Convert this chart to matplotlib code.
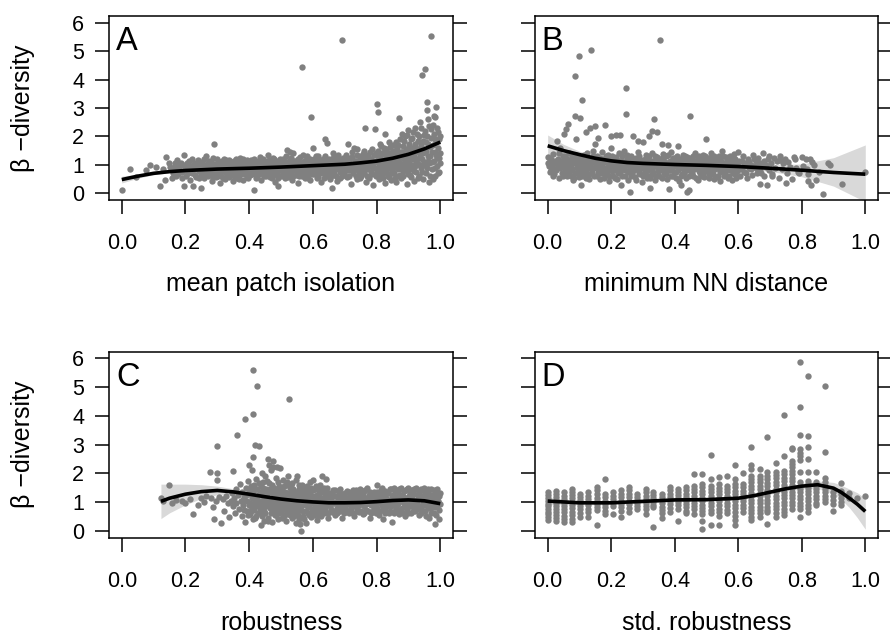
import matplotlib
matplotlib.use("Agg")
import matplotlib.pyplot as plt
from matplotlib.ticker import FormatStrFormatter

plt.rcParams['font.family'] = ['Liberation Sans', 'DejaVu Sans']

# ---- panel A: mean patch isolation ----
a_pts = [
    (0.002, 0.11), (0.027, 0.85), (0.045, 0.58), (0.075, 0.81), (0.09, 0.98), (0.109, 0.93),
    (0.12, 0.25), (0.13, 0.87), (0.135, 0.46), (0.14, 1.28), (0.149, 1.07),
    (0.152, 0.92), (0.158, 0.54), (0.163, 0.81), (0.168, 1.05), (0.172, 1.17), (0.176, 0.66),
    (0.181, 0.88), (0.185, 1.07), (0.19, 0.74), (0.194, 1.34), (0.196, 0.25), (0.198, 0.95),
    (0.203, 0.62), (0.206, 0.84), (0.21, 1.12), (0.214, 0.48), (0.217, 0.97), (0.221, 0.71),
    (0.224, 0.25), (0.227, 1.02), (0.231, 0.86), (0.234, 0.58), (0.238, 1.18), (0.241, 0.78),
    (0.245, 0.93), (0.248, 0.2), (0.249, 0.66),
    (0.252, 1.08), (0.255, 0.83), (0.258, 0.52), (0.261, 0.95), (0.264, 0.71), (0.266, 1.31),
    (0.268, 0.88), (0.271, 0.61), (0.274, 1.15), (0.277, 0.79), (0.279, 0.99), (0.282, 0.44),
    (0.285, 0.9), (0.287, 0.68), (0.289, 1.72), (0.291, 1.04), (0.294, 0.82), (0.296, 0.56), (0.298, 1.2),
    (0.301, 0.93), (0.303, 0.74), (0.306, 1.1), (0.308, 0.35), (0.311, 0.86), (0.313, 0.62),
    (0.316, 1.01), (0.318, 0.78), (0.321, 1.22), (0.323, 0.5), (0.326, 0.95), (0.328, 0.7),
    (0.331, 1.07), (0.333, 0.84), (0.336, 0.58), (0.338, 1.16), (0.341, 0.9), (0.343, 0.66),
    (0.346, 0.99), (0.348, 0.42),
    (0.351, 0.81), (0.353, 1.12), (0.356, 0.73), (0.358, 0.96), (0.361, 0.55), (0.363, 1.05),
    (0.366, 0.87), (0.368, 0.64), (0.371, 1.24), (0.373, 0.92), (0.376, 0.77), (0.378, 1.0),
    (0.381, 0.47), (0.383, 0.85), (0.386, 1.14), (0.388, 0.69), (0.391, 0.94), (0.393, 0.58),
    (0.396, 1.08), (0.398, 0.8),
    (0.401, 0.97), (0.403, 0.63), (0.406, 1.18), (0.408, 0.86), (0.411, 0.72), (0.413, 1.03),
    (0.416, 0.1), (0.418, 0.9), (0.421, 0.54), (0.423, 1.1), (0.426, 0.79), (0.428, 0.98),
    (0.431, 0.67), (0.433, 1.26), (0.436, 0.88), (0.438, 0.45), (0.441, 1.01), (0.443, 0.76),
    (0.446, 0.93), (0.448, 0.6),
    (0.451, 1.13), (0.453, 0.84), (0.456, 0.7), (0.458, 1.02), (0.46, 1.34), (0.462, 0.92),
    (0.465, 0.57), (0.467, 1.07), (0.47, 0.8), (0.472, 0.99), (0.475, 0.65), (0.477, 1.19),
    (0.48, 0.87), (0.482, 0.41), (0.485, 0.95), (0.487, 0.74), (0.49, 1.1), (0.492, 0.25),
    (0.495, 0.89), (0.497, 0.62),
    (0.501, 1.04), (0.503, 0.78), (0.506, 1.22), (0.508, 0.91), (0.511, 0.55), (0.513, 1.08),
    (0.516, 0.83), (0.518, 1.52), (0.521, 0.69), (0.523, 0.97), (0.526, 1.15), (0.528, 1.46),
    (0.531, 0.74), (0.533, 0.93), (0.536, 0.48), (0.539, 1.4), (0.541, 1.03), (0.543, 0.86),
    (0.546, 0.64), (0.548, 1.12),
    (0.551, 0.9), (0.553, 0.35), (0.556, 1.01), (0.558, 0.77), (0.561, 1.27), (0.563, 0.94),
    (0.566, 0.6), (0.567, 4.46), (0.569, 1.1), (0.571, 0.82), (0.574, 0.99), (0.576, 0.52),
    (0.579, 1.18), (0.581, 0.87), (0.584, 0.71), (0.586, 1.06), (0.589, 0.93), (0.591, 0.45),
    (0.593, 2.69), (0.594, 1.14), (0.596, 0.8), (0.599, 1.02), (0.6, 1.58),
    (0.602, 0.66), (0.605, 1.09), (0.607, 0.89), (0.61, 1.3), (0.612, 0.74), (0.615, 0.98),
    (0.617, 0.58), (0.62, 1.16), (0.622, 0.85), (0.625, 1.04), (0.627, 0.38), (0.63, 0.94),
    (0.632, 1.22), (0.635, 0.7), (0.638, 1.9), (0.64, 1.01), (0.642, 0.83), (0.644, 1.78),
    (0.645, 0.62), (0.648, 1.12),
    (0.651, 0.92), (0.653, 0.51), (0.656, 1.07), (0.658, 0.79), (0.659, 0.17), (0.662, 1.25),
    (0.664, 0.96), (0.667, 0.68), (0.669, 1.13), (0.672, 0.87), (0.674, 1.02), (0.677, 0.44),
    (0.679, 1.36), (0.682, 0.9), (0.684, 0.73), (0.687, 1.18), (0.689, 0.98), (0.692, 0.6),
    (0.693, 5.38), (0.695, 1.08), (0.698, 0.84),
    (0.701, 1.21), (0.703, 0.95), (0.706, 0.57), (0.708, 1.04), (0.71, 1.75), (0.712, 0.8),
    (0.715, 1.15), (0.717, 0.92), (0.72, 0.33), (0.722, 1.29), (0.725, 0.7), (0.727, 1.01),
    (0.73, 1.6), (0.732, 0.86), (0.735, 1.12), (0.737, 0.49), (0.74, 1.55), (0.742, 0.97),
    (0.745, 0.76), (0.747, 1.24), (0.749, 1.06),
    (0.751, 0.62), (0.754, 1.17), (0.756, 0.9), (0.758, 1.38), (0.761, 0.72), (0.763, 1.03),
    (0.764, 2.28), (0.766, 0.41), (0.768, 1.27), (0.771, 0.85), (0.773, 1.1), (0.776, 0.55),
    (0.778, 1.45), (0.781, 0.95), (0.783, 1.2), (0.786, 0.68), (0.788, 1.05), (0.79, 0.3),
    (0.793, 1.33), (0.795, 0.88), (0.796, 2.26), (0.798, 1.14), (0.8, 3.13),
    (0.802, 0.74), (0.804, 1.5), (0.806, 2.87), (0.807, 1.02), (0.809, 0.5), (0.811, 1.24),
    (0.813, 0.9), (0.815, 1.66), (0.817, 0.63), (0.819, 1.12), (0.821, 1.38), (0.823, 0.82),
    (0.825, 0.36), (0.827, 2.1), (0.828, 1.0), (0.83, 1.55), (0.832, 0.7), (0.834, 1.2),
    (0.836, 0.94), (0.838, 1.8), (0.84, 0.56), (0.842, 1.3), (0.844, 1.07), (0.846, 0.45),
    (0.848, 1.46), (0.849, 0.85),
    (0.851, 1.15), (0.853, 1.7), (0.855, 0.72), (0.857, 1.35), (0.859, 0.98), (0.861, 0.4),
    (0.863, 1.58), (0.865, 1.1), (0.867, 0.62), (0.869, 2.64), (0.87, 1.25), (0.872, 0.88),
    (0.874, 1.9), (0.876, 1.45), (0.878, 0.52), (0.88, 1.04), (0.882, 1.65), (0.884, 0.78),
    (0.886, 1.3), (0.888, 0.95), (0.89, 2.0), (0.892, 1.18), (0.894, 0.32), (0.896, 1.52),
    (0.898, 0.68), (0.9, 2.22),
    (0.901, 1.08), (0.903, 1.75), (0.905, 0.85), (0.907, 1.4), (0.909, 0.58), (0.911, 1.95),
    (0.913, 1.22), (0.915, 0.95), (0.917, 1.62), (0.919, 0.44), (0.921, 2.3), (0.923, 1.12),
    (0.925, 0.75), (0.927, 1.5), (0.929, 1.85), (0.931, 1.02), (0.933, 0.62), (0.935, 2.5),
    (0.937, 1.35), (0.939, 0.88), (0.941, 1.7), (0.942, 4.16), (0.944, 1.2), (0.946, 0.5),
    (0.948, 2.05), (0.949, 1.55),
    (0.951, 4.38), (0.952, 0.98), (0.954, 1.8), (0.956, 0.7), (0.958, 3.2), (0.958, 2.93),
    (0.96, 1.3), (0.962, 2.6), (0.964, 1.05), (0.966, 0.4), (0.968, 1.62), (0.97, 2.25),
    (0.972, 5.55), (0.973, 0.85), (0.975, 1.45), (0.977, 2.4), (0.979, 2.72), (0.98, 1.15),
    (0.982, 0.6), (0.984, 2.7), (0.985, 1.9), (0.986, 3.05), (0.988, 1.35), (0.99, 0.95),
    (0.992, 2.15), (0.994, 1.6), (0.995, 0.75), (0.997, 1.25), (0.998, 2.0), (1.0, 1.05),
    # second pass over the dense body
    (0.161, 0.72), (0.166, 0.95), (0.171, 0.6), (0.178, 0.98), (0.183, 0.78), (0.188, 0.55),
    (0.192, 1.0), (0.199, 0.82), (0.204, 1.05), (0.208, 0.7), (0.212, 0.92), (0.219, 1.2),
    (0.223, 0.85), (0.229, 0.65), (0.233, 1.08), (0.237, 0.95), (0.243, 0.55), (0.246, 1.1),
    (0.251, 0.88), (0.256, 0.68), (0.259, 1.22), (0.263, 0.82), (0.267, 1.02), (0.272, 0.76),
    (0.276, 0.92), (0.281, 1.1), (0.286, 0.58), (0.288, 1.25), (0.292, 0.75), (0.297, 0.98),
    (0.302, 0.62), (0.307, 1.0), (0.31, 0.8), (0.314, 1.15), (0.317, 0.55), (0.322, 0.9),
    (0.327, 1.18), (0.33, 0.62), (0.334, 0.97), (0.337, 0.76), (0.342, 1.1), (0.347, 0.85),
    (0.352, 0.6), (0.355, 0.95), (0.359, 1.2), (0.364, 0.8), (0.367, 0.5), (0.372, 1.1),
    (0.375, 0.68), (0.379, 0.9), (0.382, 1.22), (0.387, 0.96), (0.39, 0.75), (0.394, 1.16),
    (0.397, 0.55), (0.402, 0.82), (0.405, 1.05), (0.409, 0.68), (0.414, 1.2), (0.417, 0.95),
    (0.42, 0.78), (0.424, 0.6), (0.427, 1.15), (0.432, 0.9), (0.435, 1.05), (0.439, 0.7),
    (0.442, 1.22), (0.447, 0.83), (0.45, 1.02), (0.454, 0.62), (0.457, 0.88), (0.461, 1.18),
    (0.464, 0.75), (0.468, 0.95), (0.471, 0.55), (0.474, 1.25), (0.478, 1.05), (0.481, 0.68),
    (0.484, 1.15), (0.488, 0.9), (0.491, 0.55), (0.494, 1.0), (0.498, 1.2), (0.502, 0.88),
    (0.505, 0.6), (0.509, 1.12), (0.512, 0.7), (0.515, 1.3), (0.519, 0.98), (0.522, 0.58),
    (0.525, 0.85), (0.529, 1.05), (0.532, 1.25), (0.535, 0.8), (0.538, 0.62), (0.542, 1.15),
    (0.545, 0.95), (0.549, 0.75), (0.552, 1.2), (0.555, 0.62), (0.559, 0.9), (0.562, 1.08),
    (0.565, 0.78), (0.568, 1.35), (0.572, 0.65), (0.575, 1.15), (0.578, 0.92), (0.582, 1.3),
    (0.585, 0.55), (0.588, 0.8), (0.592, 1.22), (0.595, 0.95), (0.598, 0.68), (0.603, 1.2),
    (0.606, 0.8), (0.609, 1.02), (0.613, 0.55), (0.616, 1.32), (0.619, 0.92), (0.623, 0.7),
    (0.626, 1.15), (0.629, 0.82), (0.633, 1.05), (0.636, 0.52), (0.639, 1.3), (0.643, 0.95),
    (0.646, 0.75), (0.65, 1.22), (0.654, 0.85), (0.657, 0.62), (0.66, 1.15), (0.663, 1.4),
    (0.666, 0.8), (0.67, 1.05), (0.673, 0.6), (0.676, 1.28), (0.68, 0.95), (0.683, 1.12),
    (0.686, 0.52), (0.69, 0.85), (0.694, 1.25), (0.697, 0.7), (0.7, 1.0), (0.704, 1.35),
    (0.707, 0.8), (0.711, 1.1), (0.714, 0.62), (0.718, 1.25), (0.721, 0.95), (0.724, 1.45),
    (0.728, 0.82), (0.731, 1.15), (0.734, 0.6), (0.738, 1.35), (0.741, 0.88), (0.744, 1.1),
    (0.748, 0.55), (0.752, 1.3), (0.755, 1.0), (0.759, 0.8), (0.762, 1.5), (0.765, 1.15),
    (0.769, 0.62), (0.772, 1.35), (0.775, 0.95), (0.779, 1.2), (0.782, 0.75), (0.785, 1.55),
    (0.789, 0.9), (0.792, 1.1), (0.797, 0.6), (0.799, 1.4),
    (0.801, 1.1), (0.803, 0.9), (0.805, 1.3), (0.808, 0.62), (0.81, 1.75), (0.812, 1.05),
    (0.814, 0.78), (0.816, 1.4), (0.818, 1.0), (0.82, 0.55), (0.822, 1.6), (0.824, 1.15),
    (0.826, 0.9), (0.829, 1.3), (0.831, 0.75), (0.833, 1.45), (0.835, 1.05), (0.837, 0.6),
    (0.839, 1.25), (0.841, 0.9), (0.843, 1.62), (0.845, 1.15), (0.847, 0.7), (0.85, 1.35),
    (0.852, 0.9), (0.854, 1.5), (0.856, 1.2), (0.858, 0.55), (0.86, 1.8), (0.862, 1.0),
    (0.864, 1.4), (0.866, 0.85), (0.868, 1.7), (0.871, 1.1), (0.873, 0.65), (0.875, 1.3),
    (0.877, 1.0), (0.879, 2.1), (0.881, 1.45), (0.883, 0.6), (0.885, 1.2), (0.887, 1.85),
    (0.889, 0.82), (0.891, 1.55), (0.893, 1.0), (0.895, 2.05), (0.897, 1.3), (0.899, 0.9),
    (0.902, 1.6), (0.904, 1.25), (0.906, 0.65), (0.908, 1.9), (0.91, 1.0), (0.912, 1.5),
    (0.914, 2.15), (0.916, 0.78), (0.918, 1.3), (0.92, 1.75), (0.922, 0.95), (0.924, 1.6),
    (0.926, 2.1), (0.928, 1.2), (0.93, 0.55), (0.932, 1.45), (0.934, 2.0), (0.936, 0.98),
    (0.938, 1.6), (0.94, 2.3), (0.943, 0.75), (0.945, 1.4), (0.947, 1.85), (0.95, 1.1),
    (0.953, 2.2), (0.955, 1.5), (0.957, 0.88), (0.959, 2.0), (0.961, 1.15), (0.963, 1.75),
    (0.965, 2.35), (0.967, 0.62), (0.969, 1.3), (0.971, 1.95), (0.974, 1.1), (0.976, 1.7),
    (0.978, 0.5), (0.981, 2.1), (0.983, 1.45), (0.985, 0.9), (0.987, 1.8), (0.989, 2.3),
    (0.991, 1.25), (0.993, 0.7), (0.996, 1.9), (0.999, 1.4),
]
a_fit_x = [0.0, 0.05, 0.1, 0.15, 0.2, 0.3, 0.4, 0.5, 0.6, 0.7, 0.75, 0.8, 0.85, 0.9, 0.95, 1.0]
a_fit_y = [0.48, 0.6, 0.7, 0.76, 0.8, 0.85, 0.88, 0.92, 0.97, 1.02, 1.07, 1.13, 1.23, 1.37, 1.56, 1.8]
a_fit_lo = [0.36, 0.53, 0.65, 0.72, 0.77, 0.82, 0.85, 0.89, 0.94, 0.99, 1.03, 1.09, 1.18, 1.31, 1.49, 1.7]
a_fit_hi = [0.6, 0.67, 0.75, 0.8, 0.83, 0.88, 0.91, 0.95, 1.0, 1.05, 1.11, 1.17, 1.28, 1.43, 1.63, 1.9]

# ---- panel B: minimum NN distance ----
b_pts = [
    (0.0, 1.28), (0.004, 0.95), (0.008, 1.12), (0.012, 0.8), (0.016, 1.38), (0.02, 0.66),
    (0.024, 1.05), (0.028, 0.9), (0.03, 1.85), (0.033, 1.22), (0.036, 0.55), (0.04, 1.6),
    (0.042, 0.98), (0.046, 0.72), (0.049, 1.3),
    (0.052, 2.1), (0.053, 0.85), (0.056, 1.15), (0.058, 2.25), (0.06, 0.62), (0.063, 1.02),
    (0.065, 2.45), (0.067, 1.42), (0.07, 0.78), (0.073, 0.94), (0.076, 1.25), (0.079, 0.48),
    (0.082, 1.1), (0.085, 0.7), (0.086, 4.13), (0.087, 2.72), (0.088, 1.35), (0.09, 1.9),
    (0.092, 0.88), (0.095, 1.18), (0.098, 0.58), (0.1, 4.82),
    (0.101, 1.0), (0.103, 2.65), (0.104, 0.3), (0.106, 1.28), (0.109, 3.29), (0.11, 0.76),
    (0.113, 1.12), (0.116, 0.92), (0.12, 2.15), (0.121, 0.52), (0.124, 1.4), (0.127, 1.03),
    (0.13, 0.68), (0.133, 2.31), (0.135, 5.05), (0.136, 1.2), (0.139, 0.85), (0.142, 1.5),
    (0.145, 0.6), (0.148, 1.08), (0.149, 2.37), (0.15, 1.75),
    (0.152, 0.95), (0.155, 1.3), (0.158, 0.74), (0.16, 1.95), (0.162, 1.15), (0.165, 0.5),
    (0.168, 1.02), (0.171, 1.45), (0.174, 0.82), (0.177, 1.22), (0.18, 2.4), (0.182, 0.64),
    (0.185, 1.1), (0.188, 0.9), (0.191, 1.35), (0.194, 0.42), (0.197, 1.0), (0.199, 1.58),
    (0.2, 2.02), (0.202, 0.78), (0.205, 1.18), (0.208, 0.95), (0.211, 0.55), (0.214, 1.28),
    (0.215, 2.05), (0.217, 1.06), (0.22, 0.7), (0.223, 1.4), (0.226, 0.88), (0.228, 2.06),
    (0.23, 0.28), (0.232, 1.12), (0.235, 0.62), (0.238, 1.0), (0.241, 1.5), (0.244, 0.8),
    (0.247, 2.79), (0.248, 3.69), (0.249, 1.2),
    (0.252, 0.48), (0.255, 1.05), (0.258, 0.9), (0.26, 0.06), (0.262, 1.32), (0.265, 0.7),
    (0.268, 1.15), (0.27, 2.0), (0.272, 0.96), (0.275, 0.58), (0.278, 1.25), (0.281, 0.84),
    (0.284, 1.45), (0.285, 1.85), (0.287, 1.02), (0.29, 0.66), (0.293, 1.18), (0.296, 0.38),
    (0.298, 0.92), (0.3, 1.8),
    (0.302, 1.1), (0.305, 0.75), (0.308, 1.35), (0.31, 0.98), (0.313, 0.52), (0.316, 1.22),
    (0.318, 0.86), (0.32, 2.02), (0.321, 0.2), (0.323, 1.05), (0.326, 0.65), (0.329, 1.4),
    (0.33, 2.2), (0.332, 0.92), (0.334, 2.63), (0.335, 1.15), (0.338, 0.45), (0.341, 1.0),
    (0.344, 1.28), (0.345, 2.15), (0.347, 0.78), (0.349, 1.12),
    (0.352, 0.6), (0.354, 5.41), (0.355, 1.2), (0.358, 0.95), (0.36, 1.75), (0.362, 1.38),
    (0.365, 0.72), (0.368, 1.08), (0.371, 0.88), (0.374, 1.3), (0.377, 0.5), (0.38, 1.7),
    (0.381, 0.15), (0.383, 1.02), (0.386, 0.8), (0.389, 1.45), (0.392, 1.15), (0.395, 0.62),
    (0.398, 0.96),
    (0.401, 1.25), (0.404, 0.74), (0.407, 1.08), (0.41, 1.65), (0.412, 0.9), (0.415, 0.42),
    (0.418, 1.18), (0.42, 0.3), (0.421, 1.0), (0.424, 0.68), (0.427, 1.35), (0.43, 0.85),
    (0.433, 1.12), (0.436, 0.55), (0.439, 1.28), (0.44, 0.05), (0.442, 0.95), (0.445, 0.12),
    (0.447, 1.06), (0.449, 2.73),
    (0.451, 0.78), (0.454, 1.2), (0.457, 0.62), (0.46, 1.02), (0.463, 1.42), (0.466, 0.88),
    (0.469, 1.15), (0.472, 0.48), (0.475, 0.98), (0.478, 1.3), (0.481, 0.72), (0.484, 1.08),
    (0.487, 0.9), (0.49, 1.35), (0.493, 0.58), (0.496, 1.12), (0.497, 1.92), (0.499, 0.82),
    (0.502, 1.02), (0.505, 1.25), (0.508, 0.68), (0.511, 0.95), (0.514, 1.4), (0.517, 0.78),
    (0.52, 1.1), (0.523, 0.5), (0.526, 1.2), (0.529, 0.88), (0.532, 1.05), (0.535, 0.62),
    (0.538, 1.32), (0.541, 0.92), (0.544, 0.42), (0.547, 1.15), (0.55, 1.5),
    (0.552, 0.85), (0.555, 1.08), (0.558, 0.7), (0.561, 1.28), (0.564, 0.96), (0.567, 0.55),
    (0.57, 1.18), (0.573, 0.82), (0.576, 1.0), (0.579, 0.48), (0.582, 1.22), (0.585, 0.9),
    (0.588, 1.38), (0.591, 0.66), (0.594, 1.05), (0.597, 0.78), (0.6, 1.45),
    (0.603, 1.12), (0.607, 0.6), (0.611, 0.92), (0.615, 1.3), (0.619, 0.75), (0.623, 1.05),
    (0.627, 0.52), (0.631, 1.2), (0.635, 0.88), (0.639, 1.0), (0.643, 0.65), (0.647, 1.35),
    (0.651, 0.95), (0.655, 1.15), (0.659, 0.7), (0.663, 1.25), (0.667, 0.32), (0.67, 0.85),
    (0.674, 1.08), (0.678, 1.4), (0.682, 0.62), (0.686, 0.98), (0.69, 0.3), (0.694, 1.2),
    (0.698, 0.8),
    (0.702, 1.05), (0.705, 0.6), (0.707, 0.68), (0.712, 1.25), (0.717, 0.9), (0.722, 1.12),
    (0.727, 0.55), (0.73, 1.18), (0.732, 1.3), (0.737, 0.85), (0.74, 1.06), (0.747, 1.22),
    (0.75, 0.35), (0.753, 0.72), (0.758, 1.1), (0.763, 0.92), (0.77, 0.5), (0.775, 1.28),
    (0.778, 1.2), (0.783, 0.88), (0.788, 0.75), (0.79, 0.7),
    (0.8, 1.26), (0.805, 0.95), (0.812, 1.2), (0.818, 0.85), (0.82, 0.68), (0.82, 0.44),
    (0.825, 1.22), (0.83, 0.3), (0.833, 1.1), (0.84, 1.0), (0.845, 0.48), (0.855, 0.75),
    (0.867, -0.02), (0.884, 1.08), (0.89, 1.0), (0.928, 0.34), (1.0, 0.75),
    # second pass over the dense body
    (0.002, 1.08), (0.006, 0.75), (0.01, 1.22), (0.014, 0.95), (0.018, 0.6), (0.022, 1.15),
    (0.026, 0.82), (0.031, 1.05), (0.035, 1.4), (0.038, 0.88), (0.044, 1.12), (0.047, 0.6),
    (0.051, 1.0), (0.055, 1.3), (0.059, 0.72), (0.062, 1.2), (0.066, 0.92), (0.069, 1.1),
    (0.072, 0.62), (0.075, 1.35), (0.078, 0.85), (0.081, 1.05), (0.084, 0.55), (0.089, 1.2),
    (0.091, 0.98), (0.094, 0.72), (0.097, 1.3), (0.102, 0.82), (0.105, 1.1), (0.108, 0.6),
    (0.111, 0.95), (0.115, 1.35), (0.118, 0.7), (0.122, 1.15), (0.125, 0.85), (0.128, 1.25),
    (0.131, 0.5), (0.134, 0.95), (0.138, 1.1), (0.141, 0.72), (0.144, 1.3), (0.147, 0.88),
    (0.151, 1.15), (0.154, 0.6), (0.157, 1.05), (0.161, 0.85), (0.164, 1.25), (0.167, 0.7),
    (0.17, 0.95), (0.173, 1.12), (0.176, 0.55), (0.179, 0.9), (0.183, 1.3), (0.186, 0.75),
    (0.189, 1.05), (0.192, 0.62), (0.196, 1.2), (0.201, 0.9), (0.204, 1.3), (0.207, 0.62),
    (0.21, 1.08), (0.213, 0.82), (0.216, 1.2), (0.219, 0.5), (0.222, 0.95), (0.225, 1.15),
    (0.229, 0.72), (0.233, 1.3), (0.236, 0.85), (0.24, 1.1), (0.243, 0.6), (0.246, 0.98),
    (0.251, 1.35), (0.254, 0.75), (0.257, 1.15), (0.261, 0.62), (0.264, 0.95), (0.267, 1.25),
    (0.271, 0.8), (0.274, 1.05), (0.277, 0.45), (0.28, 1.2), (0.283, 0.95), (0.286, 0.7),
    (0.289, 1.3), (0.292, 0.85), (0.295, 1.08), (0.299, 0.6), (0.303, 0.9), (0.306, 1.2),
    (0.309, 0.65), (0.312, 1.05), (0.315, 0.82), (0.319, 1.3), (0.322, 0.55), (0.325, 0.95),
    (0.328, 1.15), (0.331, 0.75), (0.336, 1.0), (0.339, 1.3), (0.342, 0.62), (0.346, 0.9),
    (0.35, 1.2), (0.353, 0.82), (0.357, 1.05), (0.361, 0.55), (0.364, 1.25), (0.367, 0.9),
    (0.37, 1.1), (0.373, 0.68), (0.376, 1.0), (0.379, 1.35), (0.382, 0.8), (0.385, 1.15),
    (0.388, 0.6), (0.391, 0.92), (0.394, 1.25), (0.397, 0.75), (0.4, 1.05), (0.403, 0.55),
    (0.406, 1.3), (0.409, 0.8), (0.413, 1.0), (0.416, 1.2), (0.419, 0.62), (0.423, 0.9),
    (0.426, 1.15), (0.429, 0.72), (0.432, 1.3), (0.435, 0.95), (0.438, 0.8), (0.441, 1.1),
    (0.444, 0.62), (0.448, 1.25), (0.452, 0.95), (0.455, 0.7), (0.458, 1.3), (0.461, 0.85),
    (0.464, 1.1), (0.467, 0.55), (0.47, 0.95), (0.473, 1.25), (0.476, 0.78), (0.479, 1.05),
    (0.482, 0.62), (0.486, 1.2), (0.489, 0.95), (0.492, 0.75), (0.495, 1.3), (0.498, 1.0),
    (0.503, 0.8), (0.506, 1.1), (0.509, 0.55), (0.512, 1.25), (0.515, 0.92), (0.518, 1.05),
    (0.521, 0.68), (0.524, 1.3), (0.527, 0.85), (0.53, 1.15), (0.533, 0.58), (0.536, 0.95),
    (0.539, 1.2), (0.542, 0.75), (0.545, 1.05), (0.548, 0.88), (0.553, 1.3), (0.556, 0.6),
    (0.559, 1.0), (0.562, 0.8), (0.565, 1.15), (0.568, 0.9), (0.571, 0.62), (0.574, 1.3),
    (0.577, 0.85), (0.58, 1.1), (0.583, 0.7), (0.586, 0.98), (0.589, 1.2), (0.592, 0.55),
    (0.595, 0.88), (0.598, 1.1), (0.605, 0.85), (0.612, 1.15), (0.618, 0.95), (0.625, 0.72),
    (0.633, 1.1), (0.641, 0.85), (0.649, 1.2), (0.657, 0.9), (0.665, 1.05), (0.672, 0.72),
    (0.68, 1.15), (0.688, 0.92), (0.696, 1.3),
]
b_fit_x = [0.0, 0.05, 0.1, 0.15, 0.2, 0.25, 0.3, 0.4, 0.5, 0.6, 0.7, 0.8, 0.9, 1.0]
b_fit_y = [1.67, 1.5, 1.36, 1.23, 1.14, 1.08, 1.05, 1.01, 0.98, 0.94, 0.88, 0.81, 0.73, 0.67]
b_fit_lo = [1.3, 1.3, 1.24, 1.14, 1.07, 1.02, 0.99, 0.96, 0.93, 0.87, 0.77, 0.58, 0.25, -0.3]
b_fit_hi = [2.05, 1.72, 1.48, 1.32, 1.21, 1.14, 1.11, 1.06, 1.03, 1.01, 0.99, 1.03, 1.25, 1.7]

# ---- panel C: robustness ----
c_pts = [
    (0.123, 1.14), (0.13, 1.02), (0.149, 1.58), (0.158, 0.98), (0.17, 1.08), (0.188, 1.05),
    (0.2, 0.95), (0.214, 1.1), (0.225, 0.57), (0.238, 0.91), (0.25, 1.15), (0.258, 1.0),
    (0.265, 1.2), (0.276, 2.06), (0.28, 1.12), (0.287, 0.82), (0.289, 0.42), (0.295, 1.05),
    (0.3, 2.96), (0.3, 2.01), (0.3, 1.75), (0.305, 1.18), (0.313, 0.27), (0.318, 1.1),
    (0.322, 0.7), (0.328, 1.22), (0.332, 0.95), (0.337, 0.47), (0.342, 1.05), (0.346, 1.3),
    (0.35, 2.09), (0.35, 0.85),
    (0.352, 1.15), (0.355, 0.62), (0.358, 1.45), (0.36, 0.95), (0.363, 3.33), (0.365, 1.25),
    (0.368, 0.75), (0.37, 1.62), (0.373, 1.05), (0.376, 0.5), (0.378, 1.35), (0.381, 0.88),
    (0.384, 1.18), (0.386, 0.3), (0.388, 3.89), (0.389, 1.5), (0.392, 0.68), (0.394, 1.02),
    (0.396, 1.72), (0.398, 0.9), (0.4, 2.27),
    (0.401, 1.28), (0.403, 0.58), (0.405, 1.55), (0.407, 0.85), (0.409, 1.12), (0.41, 2.1),
    (0.411, 0.4), (0.413, 4.05), (0.413, 5.58), (0.413, 2.55), (0.414, 1.4), (0.416, 0.72),
    (0.418, 2.98), (0.419, 1.0), (0.421, 1.8), (0.423, 0.52), (0.425, 5.04), (0.426, 1.22),
    (0.428, 0.9), (0.43, 1.65), (0.432, 2.95), (0.433, 0.65), (0.435, 1.35), (0.437, 0.18),
    (0.438, 1.05), (0.44, 2.0), (0.442, 0.8), (0.444, 1.5), (0.446, 0.35), (0.447, 1.15),
    (0.449, 1.9),
    (0.451, 0.6), (0.453, 1.3), (0.455, 0.95), (0.457, 1.72), (0.459, 0.45), (0.46, 2.5),
    (0.461, 1.1), (0.463, 2.3), (0.464, 0.78), (0.466, 1.45), (0.468, 2.1), (0.469, 1.0),
    (0.471, 0.3), (0.473, 1.6), (0.475, 2.2), (0.476, 2.44), (0.477, 0.7), (0.479, 1.25),
    (0.481, 0.9), (0.483, 1.85), (0.485, 0.55), (0.487, 1.38), (0.488, 2.22), (0.49, 1.05),
    (0.492, 0.4), (0.494, 1.55), (0.496, 0.82), (0.498, 2.18), (0.499, 1.2),
    (0.501, 0.65), (0.503, 1.42), (0.505, 0.95), (0.507, 1.75), (0.509, 0.5), (0.511, 1.15),
    (0.513, 0.8), (0.515, 1.6), (0.517, 0.35), (0.519, 1.3), (0.521, 1.0), (0.523, 1.9),
    (0.525, 4.59), (0.526, 0.7), (0.528, 1.48), (0.53, 0.88), (0.532, 1.2), (0.534, 0.45),
    (0.536, 1.65), (0.538, 1.05), (0.54, 0.6), (0.542, 1.35), (0.544, 0.9), (0.546, 1.78),
    (0.548, 0.25), (0.55, 1.92),
    (0.551, 1.1), (0.553, 0.55), (0.555, 1.45), (0.557, 0.8), (0.559, 1.25), (0.561, 0.22),
    (0.563, -0.02), (0.565, 1.0), (0.567, 1.6), (0.569, 0.68), (0.571, 1.18), (0.573, 0.4),
    (0.575, 1.38), (0.577, 0.9), (0.579, 0.25), (0.581, 1.55), (0.583, 1.05), (0.585, 0.6),
    (0.587, 1.28), (0.589, 0.85), (0.591, 1.7), (0.593, 0.48), (0.595, 1.12), (0.597, 0.75),
    (0.6, 1.75),
    (0.601, 1.4), (0.603, 0.95), (0.605, 0.55), (0.607, 1.2), (0.609, 0.8), (0.611, 1.55),
    (0.613, 0.38), (0.615, 1.05), (0.617, 0.7), (0.619, 1.32), (0.621, 0.9), (0.623, 1.6),
    (0.625, 0.5), (0.627, 1.15), (0.629, 0.78), (0.63, 1.92), (0.632, 1.4), (0.634, 0.98),
    (0.636, 0.62), (0.638, 1.25), (0.64, 1.8), (0.642, 0.85), (0.644, 1.48), (0.646, 1.08),
    (0.648, 0.45),
    (0.651, 1.3), (0.654, 0.88), (0.657, 1.15), (0.66, 0.65), (0.663, 1.42), (0.666, 0.98),
    (0.669, 0.55), (0.672, 1.22), (0.675, 0.8), (0.678, 1.05), (0.681, 1.35), (0.684, 0.7),
    (0.687, 1.12), (0.69, 0.92), (0.693, 0.45), (0.696, 1.28), (0.699, 0.85),
    (0.702, 1.1), (0.705, 0.72), (0.708, 1.38), (0.711, 0.95), (0.714, 0.6), (0.717, 1.2),
    (0.72, 0.85), (0.723, 1.05), (0.726, 1.4), (0.729, 0.5), (0.732, 0.92), (0.735, 1.25),
    (0.738, 0.78), (0.741, 1.1), (0.744, 0.65), (0.747, 1.32), (0.75, 0.95),
    (0.753, 1.15), (0.756, 0.58), (0.759, 1.38), (0.762, 0.85), (0.765, 1.05), (0.768, 0.72),
    (0.77, 1.5), (0.773, 0.98), (0.776, 1.25), (0.779, 0.45), (0.782, 0.88), (0.785, 1.12),
    (0.788, 0.68), (0.791, 1.35), (0.794, 0.92), (0.797, 1.08), (0.8, 1.6),
    (0.802, 0.78), (0.805, 1.22), (0.808, 0.55), (0.811, 1.02), (0.814, 1.4), (0.817, 0.88),
    (0.82, 0.4), (0.823, 1.15), (0.826, 0.72), (0.829, 1.3), (0.832, 0.95), (0.835, 1.08),
    (0.838, 0.62), (0.841, 1.45), (0.844, 0.85), (0.847, 1.2), (0.85, 0.3),
    (0.852, 1.02), (0.855, 1.48), (0.858, 0.7), (0.861, 1.18), (0.864, 0.9), (0.867, 1.35),
    (0.87, 0.58), (0.873, 1.05), (0.876, 1.5), (0.879, 0.8), (0.882, 1.22), (0.885, 0.95),
    (0.888, 0.52), (0.891, 1.4), (0.894, 1.1), (0.897, 0.75), (0.9, 1.5),
    (0.902, 0.98), (0.905, 1.3), (0.908, 0.6), (0.911, 1.15), (0.914, 0.85), (0.917, 1.45),
    (0.92, 0.7), (0.923, 1.05), (0.925, 1.5), (0.928, 0.92), (0.931, 1.25), (0.934, 0.55),
    (0.937, 1.12), (0.94, 0.8), (0.943, 1.4), (0.946, 1.0), (0.95, 1.48),
    (0.952, 0.68), (0.955, 1.2), (0.958, 0.9), (0.961, 1.35), (0.964, 0.45), (0.967, 1.08),
    (0.97, 0.78), (0.972, 1.45), (0.975, 0.95), (0.978, 1.25), (0.98, 0.6), (0.983, 1.12),
    (0.985, 0.24), (0.987, 1.38), (0.99, 0.85), (0.992, 1.05), (0.995, 0.4), (0.997, 1.2),
    (1.0, 0.92),
    # second pass over the dense body
    (0.38, 1.08), (0.385, 0.72), (0.39, 1.25), (0.395, 0.55), (0.399, 1.4), (0.402, 0.95),
    (0.406, 0.7), (0.41, 1.32), (0.412, 0.92), (0.415, 1.6), (0.417, 0.45), (0.42, 1.15),
    (0.422, 0.85), (0.424, 1.45), (0.427, 0.6), (0.429, 1.05), (0.431, 1.25), (0.434, 0.78),
    (0.436, 1.55), (0.439, 0.95), (0.441, 0.5), (0.443, 1.3), (0.445, 1.7), (0.448, 0.68),
    (0.45, 1.08), (0.452, 1.45), (0.454, 0.85), (0.456, 1.2), (0.458, 0.35), (0.462, 1.65),
    (0.465, 1.0), (0.467, 0.62), (0.47, 1.35), (0.472, 0.82), (0.474, 1.12), (0.478, 1.5),
    (0.48, 0.55), (0.482, 1.05), (0.484, 1.3), (0.486, 0.75), (0.489, 1.7), (0.491, 0.95),
    (0.493, 1.2), (0.495, 0.6), (0.497, 1.45), (0.5, 0.9), (0.502, 1.3), (0.504, 0.45),
    (0.506, 1.1), (0.508, 1.55), (0.51, 0.75), (0.512, 1.35), (0.514, 0.95), (0.516, 0.58),
    (0.518, 1.2), (0.52, 1.68), (0.522, 0.82), (0.524, 1.05), (0.527, 1.3), (0.529, 0.55),
    (0.531, 1.58), (0.533, 0.98), (0.535, 0.72), (0.537, 1.25), (0.539, 1.45), (0.541, 0.5),
    (0.543, 1.1), (0.545, 0.8), (0.547, 1.35), (0.549, 0.65), (0.552, 1.25), (0.554, 0.95),
    (0.556, 1.6), (0.558, 0.4), (0.56, 1.05), (0.562, 0.72), (0.564, 1.35), (0.566, 0.88),
    (0.568, 1.15), (0.57, 0.5), (0.572, 1.48), (0.574, 0.95), (0.576, 1.25), (0.578, 0.7),
    (0.58, 1.05), (0.582, 1.4), (0.584, 0.82), (0.586, 1.12), (0.588, 0.55), (0.59, 1.35),
    (0.592, 0.98), (0.594, 1.5), (0.596, 0.65), (0.598, 1.2), (0.602, 0.75), (0.604, 1.1),
    (0.606, 1.45), (0.608, 0.9), (0.61, 0.62), (0.612, 1.25), (0.614, 1.02), (0.616, 0.55),
    (0.618, 1.4), (0.62, 0.8), (0.622, 1.15), (0.624, 0.95), (0.626, 1.35), (0.628, 0.65),
    (0.631, 1.05), (0.633, 0.85), (0.635, 1.5), (0.637, 1.1), (0.639, 0.72), (0.641, 1.3),
    (0.643, 0.95), (0.645, 1.2), (0.647, 0.6), (0.653, 1.1), (0.656, 0.75), (0.659, 1.3),
    (0.662, 0.95), (0.665, 1.2), (0.668, 0.68), (0.671, 1.4), (0.674, 1.0), (0.677, 0.62),
    (0.68, 1.2), (0.683, 0.9), (0.686, 1.45), (0.689, 1.05), (0.692, 0.75), (0.695, 1.15),
    (0.698, 0.6), (0.701, 1.3), (0.704, 0.9), (0.707, 1.15), (0.71, 0.68), (0.713, 1.35),
    (0.716, 1.0), (0.719, 0.75), (0.722, 1.25), (0.725, 0.6), (0.728, 1.1), (0.731, 0.85),
    (0.734, 1.4), (0.737, 0.98), (0.74, 0.7), (0.743, 1.2), (0.746, 0.88), (0.749, 1.45),
    (0.752, 0.7), (0.755, 1.0), (0.758, 1.25), (0.761, 0.62), (0.764, 1.4), (0.767, 0.92),
    (0.771, 1.15), (0.774, 0.7), (0.777, 1.05), (0.78, 1.35), (0.783, 0.62), (0.786, 1.2),
    (0.789, 0.95), (0.792, 0.78), (0.795, 1.25), (0.798, 0.6), (0.801, 1.35), (0.804, 0.95),
    (0.807, 1.12), (0.81, 0.7), (0.813, 1.25), (0.816, 1.5), (0.819, 0.82), (0.822, 1.05),
    (0.825, 1.38), (0.828, 0.6), (0.831, 1.15), (0.834, 0.85), (0.837, 1.3), (0.84, 1.0),
    (0.843, 0.7), (0.846, 1.45), (0.849, 0.92), (0.853, 1.25), (0.856, 0.62), (0.859, 1.38),
    (0.862, 0.8), (0.865, 1.1), (0.868, 0.95), (0.871, 1.45), (0.874, 0.72), (0.877, 1.25),
    (0.88, 1.05), (0.883, 0.62), (0.886, 1.38), (0.889, 0.88), (0.892, 1.15), (0.895, 1.45),
    (0.898, 0.62), (0.901, 1.2), (0.904, 0.85), (0.907, 1.4), (0.91, 1.02), (0.913, 0.68),
    (0.916, 1.28), (0.919, 0.95), (0.922, 1.45), (0.926, 0.75), (0.929, 1.1), (0.932, 1.35),
    (0.935, 0.85), (0.938, 1.45), (0.941, 0.62), (0.944, 1.2), (0.948, 0.9), (0.951, 1.35),
    (0.954, 0.5), (0.957, 1.12), (0.96, 0.78), (0.963, 1.45), (0.966, 0.95), (0.969, 1.25),
    (0.972, 0.6), (0.976, 1.1), (0.979, 1.4), (0.982, 0.82), (0.985, 1.25), (0.988, 0.55),
    (0.991, 1.45), (0.994, 1.0), (0.997, 0.72), (1.0, 1.3),
]
c_fit_x = [0.123, 0.15, 0.2, 0.25, 0.3, 0.35, 0.4, 0.45, 0.5, 0.55, 0.6, 0.65, 0.7,
           0.75, 0.8, 0.85, 0.9, 0.95, 1.0]
c_fit_y = [1.02, 1.13, 1.27, 1.36, 1.4, 1.35, 1.27, 1.18, 1.1, 1.04, 1.0, 0.97, 0.97,
           0.98, 1.01, 1.05, 1.07, 1.04, 0.94]
c_fit_lo = [0.42, 0.62, 0.9, 1.12, 1.25, 1.25, 1.2, 1.12, 1.05, 0.99, 0.95, 0.92, 0.92,
            0.93, 0.96, 0.99, 1.0, 0.96, 0.8]
c_fit_hi = [1.62, 1.62, 1.62, 1.6, 1.55, 1.46, 1.35, 1.25, 1.16, 1.09, 1.05, 1.02, 1.02,
            1.03, 1.06, 1.11, 1.14, 1.13, 1.08]

# ---- panel D: std. robustness (values come in columns) ----
d_cols = [0.0, 0.026, 0.051, 0.077, 0.103, 0.128, 0.154, 0.179, 0.205, 0.231,
          0.256, 0.282, 0.308, 0.333, 0.359, 0.385, 0.41, 0.436, 0.462, 0.487,
          0.513, 0.538, 0.564, 0.59, 0.615, 0.641, 0.667, 0.692, 0.718, 0.744,
          0.769, 0.795, 0.821, 0.846, 0.872, 0.897, 0.923, 0.949, 0.974, 1.0]
d_vals = [
    [1.34, 1.24, 1.13, 1.03, 0.94, 0.85, 0.76, 0.66, 0.57, 0.47, 0.36],
    [1.37, 1.27, 1.16, 1.06, 0.96, 0.86, 0.77, 0.66, 0.55, 0.45, 0.35],
    [1.34, 1.22, 1.1, 0.98, 0.87, 0.75, 0.64, 0.52, 0.41, 0.3],
    [1.46, 1.35, 1.23, 1.12, 1.0, 0.9, 0.78, 0.66, 0.54, 0.42, 0.3],
    [1.29, 1.18, 1.08, 0.97, 0.86, 0.75, 0.63, 0.48],
    [1.34, 1.22, 1.11, 1.0, 0.88, 0.77, 0.64, 0.48],
    [1.52, 1.4, 1.28, 1.15, 1.04, 0.92, 0.81, 0.71, 0.18],
    [1.8, 1.27, 1.16, 1.04, 0.93, 0.82, 0.7, 0.58],
    [1.34, 1.22, 1.1, 0.98, 0.85, 0.58],
    [1.4, 1.28, 1.17, 1.05, 0.94, 0.82, 0.7, 0.48],
    [1.52, 1.4, 1.28, 1.16, 1.04, 0.92, 0.8, 0.65],
    [1.29, 1.18, 1.07, 0.96, 0.86, 0.77],
    [1.46, 1.34, 1.22, 1.1, 0.98, 0.87, 0.75, 0.58],
    [1.34, 1.23, 1.12, 1.0, 0.9, 0.82, 0.14],
    [1.29, 1.18, 1.06, 0.95, 0.84, 0.72, 0.6, 0.45],
    [1.52, 1.4, 1.28, 1.16, 1.04, 0.92, 0.8, 0.65],
    [1.46, 1.35, 1.24, 1.12, 1.0, 0.88, 0.77, 0.34],
    [1.52, 1.4, 1.28, 1.16, 1.04, 0.93, 0.82, 0.7, 0.6],
    [1.98, 1.57, 1.46, 1.34, 1.22, 1.1, 0.98, 0.86, 0.74, 0.58],
    [1.99, 1.63, 1.51, 1.39, 1.27, 1.15, 1.03, 0.91, 0.79, 0.67, 0.58, 0.34, 0.05],
    [2.64, 1.79, 1.57, 1.45, 1.33, 1.21, 1.09, 0.97, 0.85, 0.73, 0.6, 0.18],
    [1.86, 1.63, 1.5, 1.38, 1.26, 1.14, 1.02, 0.9, 0.77, 0.64, 0.5, 0.21],
    [1.91, 1.57, 1.45, 1.33, 1.21, 1.09, 0.97, 0.85, 0.72, 0.6],
    [2.3, 1.8, 1.63, 1.51, 1.39, 1.27, 1.15, 1.03, 0.9, 0.78, 0.65, 0.52, 0.36, 0.18],
    [2.01, 1.63, 1.51, 1.39, 1.27, 1.15, 1.03, 0.9, 0.78, 0.65],
    [2.9, 2.27, 2.15, 1.92, 1.8, 1.68, 1.56, 1.44, 1.32, 1.2, 1.08, 0.96, 0.84, 0.72, 0.6, 0.48, 0.36],
    [2.15, 1.92, 1.8, 1.68, 1.56, 1.44, 1.32, 1.2, 1.08, 0.96, 0.84, 0.72, 0.6, 0.48],
    [3.27, 2.03, 1.91, 1.79, 1.67, 1.55, 1.43, 1.31, 1.19, 1.07, 0.95, 0.83, 0.72, 0.65, 0.22],
    [2.36, 2.06, 1.94, 1.82, 1.7, 1.58, 1.46, 1.34, 1.22, 1.1, 0.98, 0.86, 0.74, 0.62, 0.48],
    [4.02, 2.59, 2.09, 1.96, 1.84, 1.72, 1.6, 1.48, 1.36, 1.24, 1.12, 1.0, 0.88, 0.76, 0.65, 0.53],
    [2.87, 2.84, 2.44, 2.32, 2.2, 2.08, 1.96, 1.84, 1.72, 1.6, 1.48, 1.36, 1.24, 1.12, 1.0, 0.88, 0.76],
    [5.87, 4.32, 3.33, 2.84, 2.69, 2.6, 2.45, 2.05, 1.69, 1.57, 1.45, 1.33, 1.21, 1.09, 0.97, 0.86, 0.76, 0.46],
    [5.39, 3.31, 2.92, 2.5, 2.03, 1.74, 1.62, 1.5, 1.38, 1.26, 1.14, 1.02, 0.9, 0.78, 0.65],
    [2.06, 1.69, 1.57, 1.45, 1.33, 1.21, 1.09, 0.98, 0.88],
    [5.04, 2.75, 1.84, 1.69, 1.57, 1.45, 1.33, 1.21, 1.1, 1.0],
    [1.34, 1.21, 1.08, 0.94, 0.67],
    [1.66, 1.39, 1.27, 1.14, 1.01, 0.88],
    [1.32, 1.15],
    [1.15],
    [1.2],
]
d_fit_x = [0.0, 0.1, 0.2, 0.3, 0.4, 0.5, 0.6, 0.65, 0.7, 0.75, 0.8, 0.85, 0.9, 0.925, 0.95, 0.975, 1.0]
d_fit_y = [1.03, 0.97, 0.97, 1.02, 1.07, 1.08, 1.13, 1.22, 1.34, 1.46, 1.55, 1.6, 1.48, 1.33, 1.13, 0.92, 0.67]
d_fit_lo = [0.9, 0.9, 0.91, 0.96, 1.01, 1.02, 1.07, 1.15, 1.27, 1.38, 1.45, 1.47, 1.28, 1.08, 0.8, 0.45, 0.05]
d_fit_hi = [1.16, 1.04, 1.03, 1.08, 1.13, 1.14, 1.19, 1.29, 1.41, 1.54, 1.65, 1.73, 1.68, 1.58, 1.45, 1.32, 1.12]

d_pts = []
for cx, col in zip(d_cols, d_vals):
    for v in col:
        d_pts.append((cx, v))

panels = [
    ('A', 'mean patch isolation', a_pts, a_fit_x, a_fit_y, a_fit_lo, a_fit_hi),
    ('B', 'minimum NN distance', b_pts, b_fit_x, b_fit_y, b_fit_lo, b_fit_hi),
    ('C', 'robustness', c_pts, c_fit_x, c_fit_y, c_fit_lo, c_fit_hi),
    ('D', 'std. robustness', d_pts, d_fit_x, d_fit_y, d_fit_lo, d_fit_hi),
]

# axes boxes in figure fractions (left, bottom, width, height)
boxes = [
    [0.1225, 0.685, 0.3865, 0.2898],
    [0.6011, 0.685, 0.3854, 0.2898],
    [0.1225, 0.1535, 0.3865, 0.2929],
    [0.6011, 0.1535, 0.3854, 0.2929],
]

fig = plt.figure(figsize=(8.9, 6.35), dpi=100)

for i, (letter, xlab, pts, fx, fy, flo, fhi) in enumerate(panels):
    ax = fig.add_axes(boxes[i])
    xs = [p[0] for p in pts]
    ys = [p[1] for p in pts]
    ax.fill_between(fx, flo, fhi, color='#d9d9d9', lw=0, zorder=1)
    ax.scatter(xs, ys, s=21, color='#808080', lw=0, zorder=2)
    ax.plot(fx, fy, color='black', lw=2.6, zorder=3, solid_capstyle='butt')

    ax.set_xlim(-0.04, 1.04)
    ax.set_ylim(-0.24, 6.24)
    ax.set_xticks([0, 0.2, 0.4, 0.6, 0.8, 1.0])
    ax.set_yticks([0, 1, 2, 3, 4, 5, 6])
    ax.xaxis.set_major_formatter(FormatStrFormatter('%.1f'))
    left_col = i % 2 == 0
    ax.tick_params(axis='x', direction='out', length=10, width=1.1, labelsize=15.5, pad=14)
    ax.tick_params(axis='y', direction='out', length=10, width=1.1, labelsize=15.5, pad=8,
                   left=True, right=True, labelleft=left_col, labelright=False)
    for sp in ax.spines.values():
        sp.set_linewidth(1.1)

    ax.set_xlabel(xlab, fontsize=18, va='baseline')
    ax.xaxis.set_label_coords(0.5, -0.495)
    if left_col:
        ax.set_ylabel('β \u2212diversity', fontsize=18, va='center')
        ax.yaxis.set_label_coords(-0.25, 0.5)

    ax.text(0.02, 0.815, letter, transform=ax.transAxes, fontsize=23.5,
            ha='left', va='baseline')

fig.savefig('out.png', dpi=100)
